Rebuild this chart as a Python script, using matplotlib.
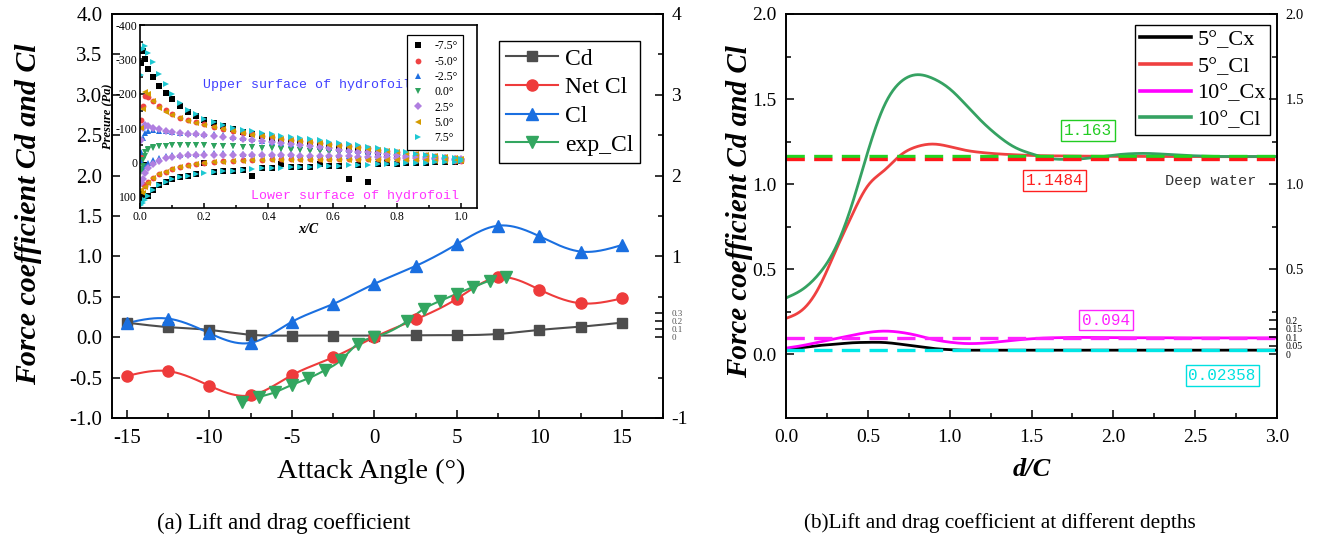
import numpy as np
import matplotlib
matplotlib.use("Agg")
import matplotlib.pyplot as plt
from matplotlib.ticker import MultipleLocator, FormatStrFormatter

plt.rcParams['font.family'] = ['Liberation Serif', 'DejaVu Sans']
plt.rcParams['mathtext.fontset'] = 'stix'
plt.rcParams['axes.unicode_minus'] = False

# ---- (a) force coefficients vs attack angle
angle = [-15, -12.5, -10, -7.5, -5, -2.5, 0, 2.5, 5, 7.5, 10, 12.5, 15]
cd = [0.18, 0.125, 0.09, 0.03, 0.02, 0.02, 0.02, 0.025, 0.025, 0.04, 0.09, 0.13, 0.18]
net_cl = [-0.48, -0.42, -0.60, -0.72, -0.47, -0.25, 0.0, 0.22, 0.475, 0.74, 0.59, 0.42, 0.48]
cl = [0.175, 0.23, 0.05, -0.07, 0.19, 0.41, 0.66, 0.88, 1.15, 1.38, 1.25, 1.06, 1.14]
exp_angle = [-8, -7, -6, -5, -4, -3, -2, -1, 0, 2, 3, 4, 5, 6, 7, 8]
exp_cl = [-0.80, -0.74, -0.68, -0.59, -0.51, -0.41, -0.28, -0.08, 0.0,
          0.20, 0.35, 0.45, 0.54, 0.62, 0.70, 0.75]

# ---- inset: surface pressure (Pa) along chord
x_over_c = [0.003, 0.008, 0.015, 0.025, 0.04, 0.06, 0.08, 0.1, 0.125, 0.15,
            0.175, 0.2, 0.23, 0.26, 0.29, 0.32, 0.35, 0.38, 0.41, 0.44,
            0.47, 0.5, 0.53, 0.56, 0.59, 0.62, 0.65, 0.68, 0.71, 0.74,
            0.77, 0.8, 0.83, 0.86, 0.89, 0.92, 0.95, 0.98, 1.0]
p_m75_up = [-290, -325, -300, -272, -248, -222, -202, -186, -165, -148,
            -136, -125, -114, -105, -97, -90, -84, -78, -72, -67,
            -62, -58, -54, -50, -47, -44, -41, -38, -35, -32,
            -29, -26, -23, -20, -17, -14, -12, -10, -8]
p_m75_lo = [105, 92, 8, 96, 80, 66, 56, 49, 43, 38,
            34, 2, 28, 25, 23, 21, 38, 17, 16, 3,
            14, 13, 12, 3, 10, 9, 48, 7, 55, 5,
            0, 3, 2, 1, 0, -1, -2, -3, -4]
p_m50_up = [-125, -165, -195, -190, -180, -165, -152, -141, -131, -123,
            -117, -111, -104, -98, -92, -87, -82, -78, -74, -70,
            -66, -63, -60, -57, -53, -50, -47, -44, -41, -38,
            -35, -32, -29, -26, -23, -19, -16, -13, -11]
p_m50_lo = [-20, 62, 68, 56, 45, 33, 26, 19, 13, 8,
            4, 1, -2, -4, -6, -7, -8, -8, -9, -9,
            -9, -9, -9, -9, -9, -9, -9, -9, -9, -9,
            -9, -9, -8, -8, -8, -7, -7, -6, -6]
p_m25_up = [-30, -72, -85, -92, -94, -93, -91, -89, -87, -86,
            -85, -84, -82, -79, -75, -72, -68, -64, -60, -57,
            -54, -51, -48, -45, -42, -39, -36, -33, -31, -28,
            -26, -23, -21, -19, -17, -15, -13, -11, -10]
p_m25_lo = [-5, 20, 10, 0, -8, -14, -18, -21, -23, -25,
            -26, -27, -27, -27, -27, -26, -26, -25, -25, -24,
            -24, -23, -23, -22, -22, -21, -20, -19, -18, -17,
            -16, -15, -14, -13, -12, -11, -10, -9, -8]
p_00_up = [20, -8, -30, -40, -45, -48, -49, -50, -50, -50,
           -50, -50, -49, -48, -47, -46, -45, -43, -42, -40,
           -38, -37, -35, -33, -31, -29, -27, -25, -23, -21,
           -19, -17, -15, -14, -12, -11, -10, -9, -8]
p_00_lo = [28, 10, -20, -36, -43, -47, -49, -50, -50, -50,
           -50, -50, -49, -48, -47, -46, -45, -43, -42, -40,
           -38, -37, -35, -33, -31, -29, -27, -25, -23, -21,
           -19, -17, -15, -14, -12, -11, -10, -9, -8]
p_p25_up = [-65, -100, -108, -106, -102, -97, -93, -90, -87, -84,
            -82, -80, -77, -74, -71, -68, -65, -62, -59, -56,
            -53, -50, -47, -44, -41, -38, -35, -32, -30, -27,
            -25, -22, -20, -18, -16, -14, -12, -10, -9]
p_p25_lo = [60, 48, 30, 15, 3, -6, -12, -16, -19, -21,
            -22, -23, -23, -23, -23, -23, -22, -22, -22, -21,
            -21, -20, -20, -19, -19, -18, -18, -17, -16, -16,
            -15, -14, -13, -12, -11, -10, -9, -8, -7]
p_p50_up = [-100, -155, -205, -200, -178, -160, -148, -139, -130, -122,
            -116, -110, -103, -97, -91, -86, -81, -77, -73, -69,
            -65, -62, -59, -56, -52, -49, -46, -43, -40, -37,
            -34, -31, -28, -25, -22, -18, -15, -12, -10]
p_p50_lo = [80, 88, 70, 58, 46, 34, 27, 20, 14, 9,
            5, 2, -1, -3, -5, -6, -7, -7, -8, -8,
            -8, -8, -8, -8, -8, -8, -8, -8, -8, -8,
            -8, -8, -7, -7, -7, -6, -6, -5, -5]
p_p75_up = [-255, -330, -340, -318, -292, -258, -228, -200, -172, -152,
            -140, -128, -118, -110, -102, -96, -91, -86, -82, -78,
            -75, -72, -68, -65, -61, -58, -54, -50, -46, -42,
            -38, -34, -30, -26, -22, -18, -15, -12, -10]
p_p75_lo = [122, 118, 108, 96, 80, 66, 56, 49, 43, 38,
            34, 31, 28, 25, 23, 21, 19, 17, 16, 15,
            14, 13, 12, 11, 10, 9, 8, 7, 6, 5,
            4, 3, 2, 1, 0, -1, -2, -3, -4]
inset_labels = ['-7.5°', '-5.0°', '-2.5°', '0.0°', '2.5°', '5.0°', '7.5°']

# ---- (b) coefficients vs submergence depth
depth = [0.0, 0.1, 0.2, 0.3, 0.4, 0.5, 0.6, 0.7, 0.8, 0.9, 1.0,
         1.1, 1.2, 1.3, 1.4, 1.5, 1.6, 1.7, 1.8, 1.9, 2.0,
         2.1, 2.2, 2.3, 2.4, 2.5, 2.6, 2.7, 2.8, 2.9, 3.0]
cx_5 = [0.030, 0.038, 0.050, 0.058, 0.066, 0.069, 0.068, 0.058, 0.045, 0.033, 0.026,
        0.023, 0.023, 0.023, 0.023, 0.023, 0.023, 0.023, 0.023, 0.023, 0.023,
        0.023, 0.023, 0.023, 0.023, 0.023, 0.023, 0.023, 0.023, 0.023, 0.023]
cl_5 = [0.21, 0.26, 0.39, 0.60, 0.81, 0.99, 1.08, 1.17, 1.22, 1.235, 1.22,
        1.198, 1.185, 1.177, 1.172, 1.168, 1.166, 1.165, 1.164, 1.163, 1.163,
        1.163, 1.162, 1.162, 1.162, 1.162, 1.161, 1.161, 1.161, 1.161, 1.161]
cx_10 = [0.035, 0.050, 0.070, 0.090, 0.110, 0.127, 0.135, 0.128, 0.110, 0.086, 0.070,
         0.062, 0.064, 0.072, 0.082, 0.090, 0.095, 0.097, 0.098, 0.097, 0.097,
         0.096, 0.096, 0.096, 0.095, 0.095, 0.095, 0.095, 0.095, 0.095, 0.095]
cl_10 = [0.33, 0.38, 0.47, 0.62, 0.87, 1.19, 1.46, 1.60, 1.643, 1.62, 1.56,
         1.465, 1.365, 1.28, 1.215, 1.178, 1.152, 1.145, 1.148, 1.158, 1.170,
         1.178, 1.180, 1.176, 1.170, 1.166, 1.163, 1.162, 1.162, 1.162, 1.162]
deep_cx_5 = 0.02358
deep_cl_5 = 1.1484
deep_cx_10 = 0.094
deep_cl_10 = 1.163


def spline(x, y, num=400):
    # natural cubic spline through the points, like Origin's "Spline" connect
    x = np.asarray(x, float)
    y = np.asarray(y, float)
    n = len(x)
    h = np.diff(x)
    A = np.zeros((n, n))
    b = np.zeros(n)
    A[0, 0] = A[-1, -1] = 1
    for i in range(1, n - 1):
        A[i, i - 1] = h[i - 1]
        A[i, i] = 2 * (h[i - 1] + h[i])
        A[i, i + 1] = h[i]
        b[i] = 3 * ((y[i + 1] - y[i]) / h[i] - (y[i] - y[i - 1]) / h[i - 1])
    c = np.linalg.solve(A, b)
    xs = np.linspace(x[0], x[-1], num)
    k = np.clip(np.searchsorted(x, xs) - 1, 0, n - 2)
    dx = xs - x[k]
    bc = (y[1:] - y[:-1]) / h - h * (2 * c[:-1] + c[1:]) / 3
    dc = (c[1:] - c[:-1]) / (3 * h)
    return xs, y[k] + bc[k] * dx + c[k] * dx ** 2 + dc[k] * dx ** 3


def style_ticks(ax, size):
    ax.tick_params(which='both', direction='in', width=1.1, labelsize=size)
    ax.tick_params(which='major', length=6)
    ax.tick_params(which='minor', length=3.5)
    for s in ax.spines.values():
        s.set_linewidth(1.2)


W, H = 1322, 544
fig = plt.figure(figsize=(W / 100, H / 100), dpi=100)

# ================= panel (a)
ax1 = fig.add_axes([112 / W, 1 - 418 / H, 551 / W, 404 / H])
series = [
    (angle, cd, '#4d4d4d', 's', 'Cd', 7),
    (angle, net_cl, '#ee3b3b', 'o', 'Net Cl', 8),
    (angle, cl, '#1a6fe0', '^', 'Cl', 9),
    (exp_angle, exp_cl, '#33a660', 'v', 'exp_Cl', 9),
]
handles = []
for xs, ys, col, mk, lab, ms in series:
    sx, sy = spline(xs, ys)
    ax1.plot(sx, sy, color=col, lw=1.5, zorder=2)
    ax1.plot(xs, ys, ls='none', marker=mk, ms=ms, color=col, zorder=3)
    handles.append(plt.Line2D([], [], color=col, lw=1.5, marker=mk, ms=ms, label=lab))

ax1.set_xlim(-15.9, 17.5)
ax1.set_ylim(-1.0, 4.0)
ax1.xaxis.set_major_locator(MultipleLocator(5))
ax1.xaxis.set_minor_locator(MultipleLocator(2.5))
ax1.yaxis.set_major_locator(MultipleLocator(0.5))
ax1.yaxis.set_major_formatter(FormatStrFormatter('%.1f'))
ax1.yaxis.set_minor_locator(MultipleLocator(0.5))
style_ticks(ax1, 15)
ax1.tick_params(axis='y', pad=7)
ax1.tick_params(axis='x', pad=8)
ax1.set_xlabel('Attack Angle (°)', fontsize=20.5)
ax1.xaxis.set_label_coords(0.47, -0.1)
ax1.set_ylabel('Force coefficient Cd and Cl', fontsize=21.5, fontweight='bold',
               fontstyle='italic')
ax1.yaxis.set_label_coords(-0.127, 0.505)

leg = ax1.legend(handles=handles, loc='upper left', bbox_to_anchor=(0.702, 0.933),
                 borderaxespad=0, fontsize=17, handlelength=2.2, fancybox=False,
                 edgecolor='black', framealpha=1, borderpad=0.3, labelspacing=0.3,
                 handletextpad=0.3)
leg.get_frame().set_linewidth(1.0)

ax1r = ax1.twinx()
ax1r.set_ylim(ax1.get_ylim())
ax1r.set_yticks([-1, 0, 0.1, 0.2, 0.3, 1, 2, 3, 4])
ax1r.set_yticklabels(['-1', '0', '0.1', '0.2', '0.3', '1', '2', '3', '4'])
ax1r.set_yticks([-0.5, 0.5, 1.5, 2.5, 3.5], minor=True)
style_ticks(ax1r, 14)
ax1r.tick_params(axis='y', pad=6)
for t in ax1r.get_yticklabels():
    if t.get_text() in ('0', '0.1', '0.2', '0.3'):
        t.set_fontsize(6.5)
        t.set_color('#555555')

# ---- inset
ins = fig.add_axes([140 / W, 1 - 208 / H, 337 / W, 183 / H])
inset_sets = [
    (p_m75_up, p_m75_lo, 'black', 's', 4.0),
    (p_m50_up, p_m50_lo, '#ef4444', 'o', 4.2),
    (p_m25_up, p_m25_lo, '#1f6fe0', '^', 4.5),
    (p_00_up, p_00_lo, '#2fa35f', 'v', 4.5),
    (p_p25_up, p_p25_lo, '#b07fe0', 'D', 3.6),
    (p_p50_up, p_p50_lo, '#d49b00', '<', 4.5),
    (p_p75_up, p_p75_lo, '#1ec8d2', '>', 4.5),
]
for (up, lo, col, mk, ms), lab in zip(inset_sets, inset_labels):
    ins.plot(x_over_c, up, ls='none', marker=mk, ms=ms, color=col, mew=0, label=lab)
    ins.plot(x_over_c, lo, ls='none', marker=mk, ms=ms, color=col, mew=0)
ins.set_xlim(0, 1.05)
ins.set_ylim(132, -400)
ins.xaxis.set_major_locator(MultipleLocator(0.2))
ins.xaxis.set_minor_locator(MultipleLocator(0.1))
ins.xaxis.set_major_formatter(FormatStrFormatter('%.1f'))
ins.yaxis.set_major_locator(MultipleLocator(100))
ins.yaxis.set_minor_locator(MultipleLocator(50))
style_ticks(ins, 8.5)
ins.tick_params(which='major', length=3.5, pad=2)
ins.tick_params(which='minor', length=2)
ins.set_xlabel('x/C', fontsize=10, fontweight='bold', fontstyle='italic', labelpad=0)
ins.set_ylabel('Presure (Pa)', fontsize=9, fontweight='bold', fontstyle='italic',
               labelpad=1)
ins.text(0.52, -225, 'Upper surface of hydrofoil', color='#4040ff', fontsize=9.5,
         fontfamily='Liberation Mono', ha='center', va='center')
ins.text(0.67, 98, 'Lower surface of hydrofoil', color='#ff33ff', fontsize=9.5,
         fontfamily='Liberation Mono', ha='center', va='center')
ileg = ins.legend(loc='upper left', bbox_to_anchor=(0.792, 0.945), borderaxespad=0,
                  fontsize=8.5, handlelength=1.0, fancybox=False, edgecolor='black',
                  framealpha=1, borderpad=0.45, labelspacing=0.28, handletextpad=0.9)
ileg.get_frame().set_linewidth(0.9)

# ================= panel (b)
ax2 = fig.add_axes([786 / W, 1 - 418 / H, 491 / W, 404 / H])
curves = [
    (cx_5, 'black', '5°_Cx'),
    (cl_5, '#ef4040', '5°_Cl'),
    (cx_10, '#ff00ff', '10°_Cx'),
    (cl_10, '#35a262', '10°_Cl'),
]
for ys, col, lab in curves:
    sx, sy = spline(depth, ys)
    ax2.plot(sx, sy, color=col, lw=2.0, label=lab)

dash = (0, (5.5, 2.8))
ax2.axhline(deep_cl_10, color='#22d422', lw=2.4, ls=dash)
ax2.axhline(deep_cl_5, color='#ff1a1a', lw=2.4, ls=dash)
ax2.axhline(deep_cx_10, color='#ff22ff', lw=2.4, ls=dash)
ax2.axhline(deep_cx_5, color='#00e6e6', lw=2.4, ls=dash)

box = dict(boxstyle='square,pad=0.18', fc='white', lw=1.0)
ax2.text(1.845, 1.315, f'{deep_cl_10}', color='#22cc22', fontsize=11.5,
         fontfamily='Liberation Mono', ha='center', va='center',
         bbox=dict(box, ec='#22cc22'))
ax2.text(1.64, 1.02, f'{deep_cl_5}', color='#ff2020', fontsize=11.5,
         fontfamily='Liberation Mono', ha='center', va='center',
         bbox=dict(box, ec='#ff2020'))
ax2.text(2.595, 1.02, 'Deep water', color='#333333', fontsize=11,
         fontfamily='Liberation Mono', ha='center', va='center')
ax2.text(1.955, 0.2, f'{deep_cx_10}', color='#ff22ff', fontsize=11.5,
         fontfamily='Liberation Mono', ha='center', va='center',
         bbox=dict(box, ec='#ff22ff'))
ax2.text(2.665, -0.125, f'{deep_cx_5}', color='#00e0e0', fontsize=11.5,
         fontfamily='Liberation Mono', ha='center', va='center',
         bbox=dict(box, ec='#00e0e0'))

ax2.set_xlim(0, 3.0)
ax2.set_ylim(-0.376, 2.0)
ax2.set_xticks(np.arange(0, 3.01, 0.5))
ax2.xaxis.set_minor_locator(MultipleLocator(0.25))
ax2.xaxis.set_major_formatter(FormatStrFormatter('%.1f'))
ax2.set_yticks(np.arange(0, 2.01, 0.5))
ax2.set_yticks(np.arange(0.25, 2.0, 0.5), minor=True)
ax2.yaxis.set_major_formatter(FormatStrFormatter('%.1f'))
style_ticks(ax2, 14)
ax2.tick_params(axis='y', pad=7)
ax2.tick_params(axis='x', pad=8)
ax2.set_xlabel('d/C', fontsize=19, fontweight='bold', fontstyle='italic')
ax2.xaxis.set_label_coords(0.5, -0.1)
ax2.set_ylabel('Force coefficient Cd and Cl', fontsize=21, fontweight='bold',
               fontstyle='italic')
ax2.yaxis.set_label_coords(-0.067, 0.51)

leg2 = ax2.legend(loc='upper left', bbox_to_anchor=(0.711, 0.973), borderaxespad=0,
                  fontsize=16, handlelength=2.3, fancybox=False, edgecolor='black',
                  framealpha=1, borderpad=0.2, labelspacing=0.28, handletextpad=0.3)
leg2.get_frame().set_linewidth(1.0)
for ln in leg2.get_lines():
    ln.set_linewidth(2.6)

ax2r = ax2.twinx()
ax2r.set_ylim(ax2.get_ylim())
ax2r.set_yticks([0, 0.05, 0.1, 0.15, 0.2, 0.5, 1.0, 1.5, 2.0])
ax2r.set_yticklabels(['0', '0.05', '0.1', '0.15', '0.2', '0.5', '1.0', '1.5', '2.0'])
ax2r.set_yticks([0.25, 0.75, 1.25, 1.75], minor=True)
style_ticks(ax2r, 10.5)
ax2r.tick_params(axis='y', pad=6)
for t in ax2r.get_yticklabels():
    if t.get_text() in ('0', '0.05', '0.1', '0.15', '0.2'):
        t.set_fontsize(7)

fig.text(284 / W, 1 - 523 / H, '(a) Lift and drag coefficient', fontsize=16.5,
         ha='center', va='center')
fig.text(1000 / W, 1 - 523 / H, '(b)Lift and drag coefficient at different depths',
         fontsize=15.3, ha='center', va='center')

fig.savefig('out.png', dpi=100)
